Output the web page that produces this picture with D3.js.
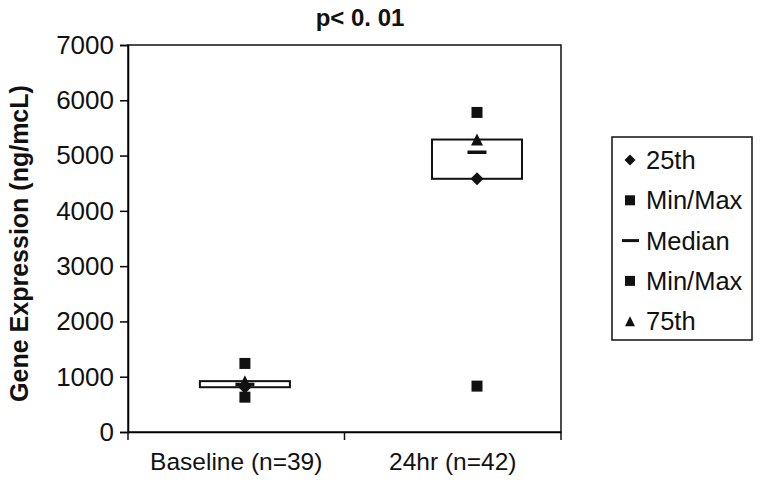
<!DOCTYPE html>
<html>
<head>
<meta charset="utf-8">
<script src="https://cdn.jsdelivr.net/npm/d3@7"></script>
<style>
  body { margin: 0; background: #fff; }
  text { font-family: "Liberation Sans", Arial, sans-serif; fill: #111; }
</style>
</head>
<body>
<svg width="762" height="488"></svg>
<script>
const categories = ['Baseline (n=39)', '24hr (n=42)'];
const p25 = [810, 4580];
const p75 = [920, 5290];
const minVals = [630, 830];
const maxVals = [1240, 5780];
const medians = [860, 5060];
const yTicks = [0, 1000, 2000, 3000, 4000, 5000, 6000, 7000];
const legendItems = ['25th', 'Min/Max', 'Median', 'Min/Max', '75th'];

const svg = d3.select('svg');
const margin = { top: 45, right: 201, bottom: 56, left: 128 };
const width = 762 - margin.left - margin.right;
const height = 488 - margin.top - margin.bottom;

const g = svg.append('g')
    .attr('transform', `translate(${margin.left}, ${margin.top})`);

const x = d3.scaleBand()
    .domain(categories)
    .range([0, width]);

// markers sit a bit right of the category centres, as in the original
const xm = d3.scalePoint()
    .domain(categories)
    .range([width * 0.27, width * 0.806]);

const y = d3.scaleLinear()
    .domain([0, 7000])
    .range([height, 0]);

// plot frame
g.append('rect')
    .attr('width', width)
    .attr('height', height)
    .attr('fill', 'none')
    .attr('stroke', '#111')
    .attr('stroke-width', 1.5);

const yAxis = g.append('g')
    .call(d3.axisLeft(y).tickValues(yTicks).tickSize(8).tickPadding(6).tickFormat(d3.format('d')));
yAxis.select('.domain').attr('stroke-width', 1.5);
yAxis.selectAll('.tick line').attr('stroke-width', 1.5);
yAxis.selectAll('text').attr('font-size', '26px').attr('font-family', 'Liberation Sans, Arial, sans-serif');

const xAxis = g.append('g')
    .attr('transform', `translate(0, ${height})`)
    .call(d3.axisBottom(x).tickSize(0).tickPadding(21));
xAxis.select('.domain').attr('stroke-width', 1.5);
xAxis.selectAll('text').attr('font-size', '24.5px').attr('font-family', 'Liberation Sans, Arial, sans-serif');

// category boundary ticks
g.selectAll('.xtick')
    .data([0, 1, 2])
    .enter().append('line')
    .attr('x1', d => d * x.step())
    .attr('x2', d => d * x.step())
    .attr('y1', height)
    .attr('y2', height + 8)
    .attr('stroke', '#111')
    .attr('stroke-width', 1.5);

// 25th-75th boxes
g.selectAll('.box')
    .data(categories)
    .enter().append('rect')
    .attr('x', d => xm(d) - 45)
    .attr('width', 90)
    .attr('y', (d, i) => y(p75[i]))
    .attr('height', (d, i) => y(p25[i]) - y(p75[i]))
    .attr('fill', '#fff')
    .attr('stroke', '#111')
    .attr('stroke-width', 2);

const shapes = {
    square: s => `M${-s / 2},${-s / 2}h${s}v${s}h${-s}Z`,
    diamond: s => `M0,${-s / 2}L${s / 2},0L0,${s / 2}L${-s / 2},0Z`,
    triangle: s => `M0,${-s / 2}L${s / 2},${s / 2}L${-s / 2},${s / 2}Z`
};

function drawMarks(vals, shape, size) {
    g.append('g').selectAll('path')
        .data(categories)
        .enter().append('path')
        .attr('transform', (d, i) => `translate(${xm(d)}, ${y(vals[i])})`)
        .attr('d', shapes[shape](size))
        .attr('fill', '#111');
}

drawMarks(maxVals, 'square', 11);
drawMarks(minVals, 'square', 11);
drawMarks(p75, 'triangle', 12);

g.append('g').selectAll('line')
    .data(categories)
    .enter().append('line')
    .attr('x1', d => xm(d) - 9.5)
    .attr('x2', d => xm(d) + 9.5)
    .attr('y1', (d, i) => y(medians[i]))
    .attr('y2', (d, i) => y(medians[i]))
    .attr('stroke', '#111')
    .attr('stroke-width', 3.5);

drawMarks(p25, 'diamond', 13);

// title
svg.append('text')
    .attr('x', 360)
    .attr('y', 26)
    .attr('text-anchor', 'middle')
    .attr('font-weight', 'bold')
    .attr('font-size', '24px')
    .text('p< 0. 01');

// y axis title
svg.append('text')
    .attr('transform', `translate(28, ${margin.top + height / 2 + 5}) rotate(-90)`)
    .attr('text-anchor', 'middle')
    .attr('font-weight', 'bold')
    .attr('font-size', '25px')
    .text('Gene Expression (ng/mcL)');

// legend
const legend = svg.append('g').attr('transform', 'translate(612, 137)');
legend.append('rect')
    .attr('width', 140)
    .attr('height', 203)
    .attr('fill', '#fff')
    .attr('stroke', '#111')
    .attr('stroke-width', 1.5);

const legendShapes = ['diamond', 'square', 'median', 'square', 'triangle'];
const li = legend.selectAll('.item')
    .data(legendItems)
    .enter().append('g')
    .attr('transform', (d, i) => `translate(18, ${23 + i * 40.3})`);

li.each(function (d, i) {
    const sel = d3.select(this);
    if (legendShapes[i] === 'median') {
        sel.append('line')
            .attr('x1', -8).attr('x2', 9)
            .attr('stroke', '#111')
            .attr('stroke-width', 3);
    } else {
        sel.append('path')
            .attr('d', shapes[legendShapes[i]](legendShapes[i] === 'diamond' ? 11 : 10))
            .attr('fill', '#111');
    }
});

li.append('text')
    .attr('x', 16)
    .attr('y', 9)
    .attr('font-size', '25.5px')
    .text(d => d);
</script>
</body>
</html>
